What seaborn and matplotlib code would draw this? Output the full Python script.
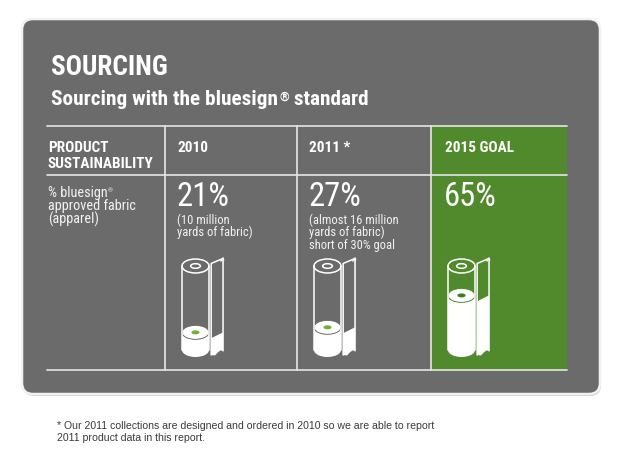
import matplotlib
matplotlib.use("Agg")
import matplotlib.pyplot as plt
import seaborn as sns
import pandas as pd
from matplotlib.patches import FancyBboxPatch, Ellipse, Polygon, Rectangle

# ---- data ----
title = "SOURCING"
subtitle_main = "Sourcing with the bluesign"
subtitle_end = " standard"
row_header = ["PRODUCT", "SUSTAINABILITY"]
row_label = ["% bluesign", "approved fabric", "(apparel)"]
years = ["2010", "2011 *", "2015 GOAL"]
percents = [21, 27, 65]
notes = [["(10 million", "yards of fabric)"],
         ["(almost 16 million", "yards of fabric)", "short of 30% goal"],
         []]
footnote = ["* Our 2011 collections are designed and ordered in 2010 so we are able to report",
            "2011 product data in this report."]

# ---- style ----
W, H = 626, 464
GRAY = "#6b6b6b"
GREEN = "#508a2c"
LINE = "#e6e6e6"
sns.set_theme(style="white")
plt.rcParams['font.family'] = ['Roboto Condensed', 'DejaVu Sans']

fig = plt.figure(figsize=(W / 100, H / 100), dpi=100, facecolor="white")
ax = fig.add_axes([0, 0, 1, 1])
ax.set_xlim(0, W)
ax.set_ylim(H, 0)
ax.axis('off')

# panel with shadow
ax.add_patch(FancyBboxPatch((23, 22), 578, 375, boxstyle="round,pad=0,rounding_size=11",
                            fc="#cfcfcf", ec="none", zorder=0))
ax.add_patch(FancyBboxPatch((22, 20), 578, 375, boxstyle="round,pad=0,rounding_size=11",
                            fc=GRAY, ec="#f2f2f2", lw=1.8, zorder=1))

# table geometry
tab_left, tab_right = 47, 567
col_lefts = [165, 297, 431]
y_top, y_head, y_bot = 127, 176, 371

# green goal column
ax.add_patch(Rectangle((col_lefts[2], y_top), tab_right - col_lefts[2], y_bot - y_top,
                       fc=GREEN, ec="none", zorder=2))
for yy in (y_top, y_head, y_bot):
    ax.plot([tab_left, tab_right], [yy, yy], color=LINE, lw=1.2, zorder=3)
for xx in col_lefts:
    ax.plot([xx, xx], [y_top, y_bot], color=LINE, lw=1.2, zorder=3)

renderer = fig.canvas.get_renderer()

# titles
ax.text(51, 75, title, fontsize=19.5, fontweight='bold', color='white', va='baseline', zorder=4)
t = ax.text(51, 105, subtitle_main, fontsize=15.3, fontweight='bold', color='white',
            va='baseline', zorder=4)
bb = t.get_window_extent(renderer)
t2 = ax.text(bb.x1 + 1, 101, "®", fontsize=9, fontweight='bold', color='white',
             va='baseline', zorder=4)
bb2 = t2.get_window_extent(renderer)
ax.text(bb2.x1, 105, subtitle_end, fontsize=15.3, fontweight='bold', color='white',
        va='baseline', zorder=4)

# row header
for i, s in enumerate(row_header):
    ax.text(48, 152 + 16 * i, s, fontsize=11, fontweight='bold', color='white',
            va='baseline', zorder=4)
for i, s in enumerate(row_label):
    tt = ax.text(48, 197 + 13.5 * i, s, fontsize=10.3, color='#f2f2f2', va='baseline', zorder=4)
    if i == 0:
        b = tt.get_window_extent(renderer)
        ax.text(b.x1 + 0.5, 192, "®", fontsize=4.5, color='#f2f2f2', va='baseline', zorder=4)

# column headers, percents and notes
for j, (cl, yr, pct, nt) in enumerate(zip(col_lefts, years, percents, notes)):
    tx = cl + 12 if j < 2 else cl + 14
    ax.text(tx, 152, yr, fontsize=11, fontweight='bold', color='white', va='baseline', zorder=4)
    ax.text(tx - 1, 206.5, f"{pct}%", fontsize=23.5, fontweight=400, color='white',
            va='baseline', zorder=4)
    for k, s in enumerate(nt):
        ax.text(tx, 224 + 12.5 * k, s, fontsize=9, color='#f2f2f2', va='baseline', zorder=4)

# footnote
for i, s in enumerate(footnote):
    ax.text(57, 429 + 12 * i, s, fontsize=7.6, color='#3a3a3a', va='baseline',
            family=['Liberation Sans', 'DejaVu Sans'])

# rolls (fill level = percentage)
EH = 14 / 0.84
for j, (cl, yr, pct) in enumerate(zip(col_lefts, years, percents)):
    bg = GREEN if j == 2 else GRAY
    core = "#3f7a1f" if j == 2 else "#6fb03a"
    rl = cl + 17
    cx = rl + 13.5
    x0, x1 = rl - 4, rl + 46
    y0, y1 = 250, 366
    iax = fig.add_axes([x0 / W, 1 - y1 / H, (x1 - x0) / W, (y1 - y0) / H])
    df = pd.DataFrame({"year": [yr], "pct": [pct]})
    sns.barplot(data=df, x="year", y="pct", ax=iax, color="white", width=1.0,
                saturation=1, linewidth=0, errorbar=None, zorder=2)
    iax.set_xlim((x0 - cx) / 27, (x1 - cx) / 27)
    iax.set_ylim(-(y1 - 351) / 0.84, (351 - y0) / 0.84)
    iax.axis('off')
    iax.patch.set_alpha(0)
    # bottom of roll
    iax.add_patch(Ellipse((0, 0), 1, EH, fc="white", ec="none", zorder=2))
    # sheet
    xs, xr = 0.58, 1.02
    wave = [(xr, -1), (0.93, -0.5), (0.84, -2.5), (0.72, -6.5), (xs, -6)]
    iax.add_patch(Polygon([(xs, pct - 7), (xr, pct)] + wave, closed=True,
                          fc="white", ec="none", zorder=2))
    iax.plot([xs, xs, xr, xr], [-6, 103, 109, -1], color="white", lw=1.1, zorder=4,
             solid_joinstyle='round')
    iax.plot([xr - 0.08, xr, xr + 0.02], [106, 109.5, 107], color="white", lw=1.1, zorder=4)
    # fill top
    iax.add_patch(Ellipse((0, pct), 1, EH, fc="white", ec=bg, lw=0.7, zorder=3))
    iax.add_patch(Ellipse((0, pct), 0.3, 4.8, fc=core, ec="none", zorder=3))
    # cylinder outline
    iax.plot([-0.5, -0.5], [0, 100], color="white", lw=1.1, zorder=4)
    iax.plot([0.5, 0.5], [0, 100], color="white", lw=1.1, zorder=4)
    iax.add_patch(Ellipse((0, 100), 1, EH, fill=False, ec="white", lw=1.1, zorder=4))
    iax.add_patch(Ellipse((0, 100), 0.36, 5.5, fill=False, ec="white", lw=1.1, zorder=4))

fig.savefig("out.png", dpi=100, facecolor="white")
